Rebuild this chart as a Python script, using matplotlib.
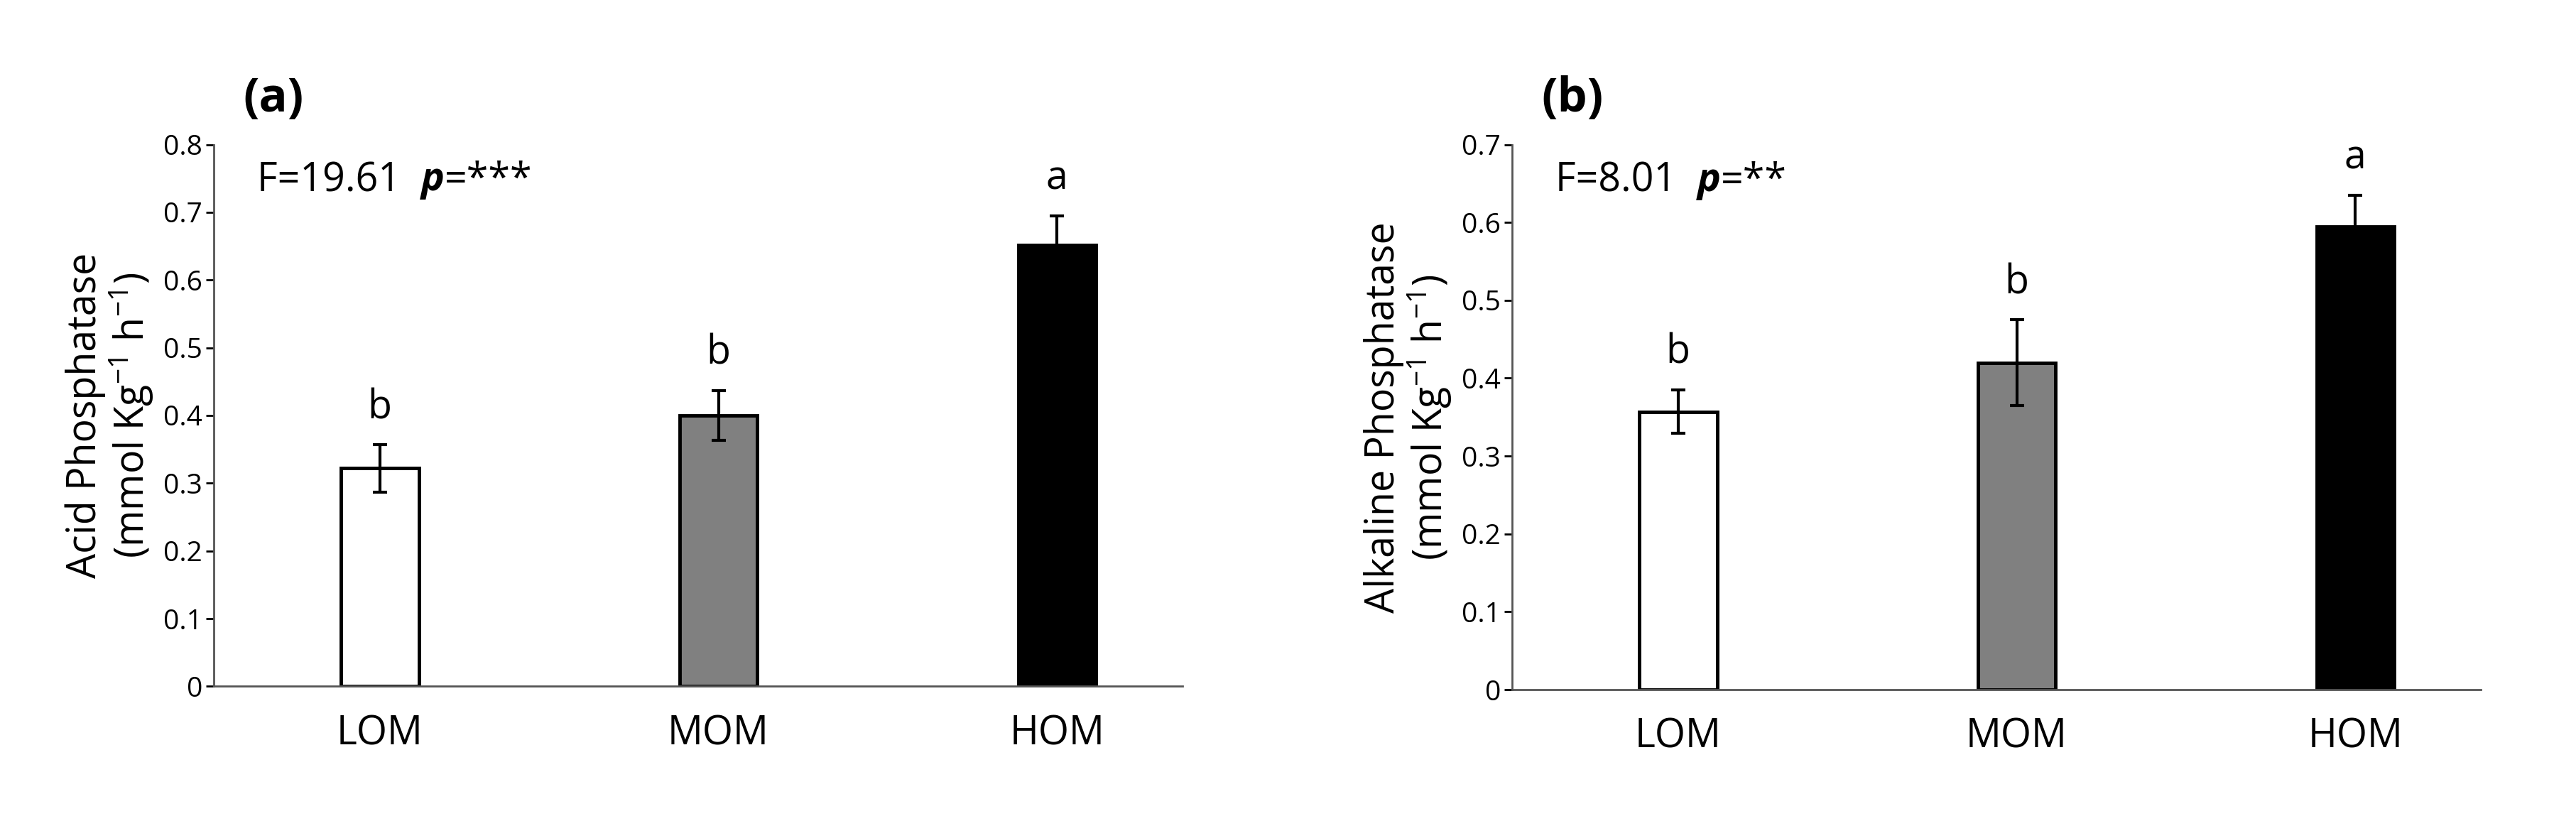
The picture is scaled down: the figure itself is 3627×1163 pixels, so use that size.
import matplotlib.pyplot as plt

cats = ["LOM", "MOM", "HOM"]
colors = ["white", "#808080", "black"]
acid = [0.322, 0.400, 0.652]
acid_err = [0.035, 0.037, 0.043]
acid_let = ["b", "b", "a"]
alk = [0.357, 0.420, 0.595]
alk_err = [0.028, 0.055, 0.040]
alk_let = ["b", "b", "a"]

plt.rcParams['font.family'] = ['Open Sans', 'DejaVu Sans']
plt.rcParams['mathtext.fontset'] = 'custom'
plt.rcParams['mathtext.rm'] = 'Open Sans'
fig = plt.figure(figsize=(36.27, 11.63), dpi=100)

panels = [
    ([0.083, 0.169, 0.376, 0.656], acid, acid_err, acid_let, 0.8, "Acid Phosphatase\n(mmol Kg$^{-1}$ h$^{-1}$)", "(a)", "F=19.61  ", "***"),
    ([0.587, 0.165, 0.376, 0.660], alk, alk_err, alk_let, 0.7, "Alkaline Phosphatase\n(mmol Kg$^{-1}$ h$^{-1}$)", "(b)", "F=8.01  ", "**"),
]
for rect, vals, errs, lets, ymax, ylab, tag, ftxt, ptxt in panels:
    ax = fig.add_axes(rect)
    x = range(len(cats))
    ax.bar(x, vals, width=0.23, color=colors, edgecolor="black", linewidth=3.5,
           yerr=errs, error_kw=dict(ecolor="black", elinewidth=3, capsize=7, capthick=3))
    for i, (v, e, l) in enumerate(zip(vals, errs, lets)):
        ax.text(i, v + e + ymax * 0.03, l, ha="center", va="bottom", fontsize=40)
    ax.set_xlim(-0.49, 2.37)
    ax.set_ylim(0, ymax)
    n = int(round(ymax * 10))
    ax.set_yticks([round(0.1 * k, 1) for k in range(n + 1)])
    ax.set_yticklabels(["0"] + [f"{0.1 * k:.1f}" for k in range(1, n + 1)], fontsize=28)
    ax.set_xticks(list(x))
    ax.set_xticklabels(cats, fontsize=40)
    ax.tick_params(axis="x", length=0, pad=28)
    ax.tick_params(axis="y", length=8, width=2)
    for s in ["top", "right"]:
        ax.spines[s].set_visible(False)
    for s in ["left", "bottom"]:
        ax.spines[s].set_linewidth(2)
        ax.spines[s].set_color("#555555")
    ax.set_ylabel(ylab, fontsize=40, linespacing=1.05, labelpad=8)
    t = ax.text(0.045, 0.97, ftxt, transform=ax.transAxes, fontsize=40, va="top")
    fig.canvas.draw()
    bb = t.get_window_extent().transformed(ax.transAxes.inverted())
    t2 = ax.text(bb.x1, 0.97, "p", transform=ax.transAxes, fontsize=40, va="top",
                 fontweight="bold", style="italic")
    fig.canvas.draw()
    bb2 = t2.get_window_extent().transformed(ax.transAxes.inverted())
    ax.text(bb2.x1, 0.97, "=" + ptxt, transform=ax.transAxes, fontsize=40, va="top")
    ax.text(0.03, 1.04, tag, transform=ax.transAxes, fontsize=48, fontweight="bold", va="bottom")

fig.savefig("out.png")
